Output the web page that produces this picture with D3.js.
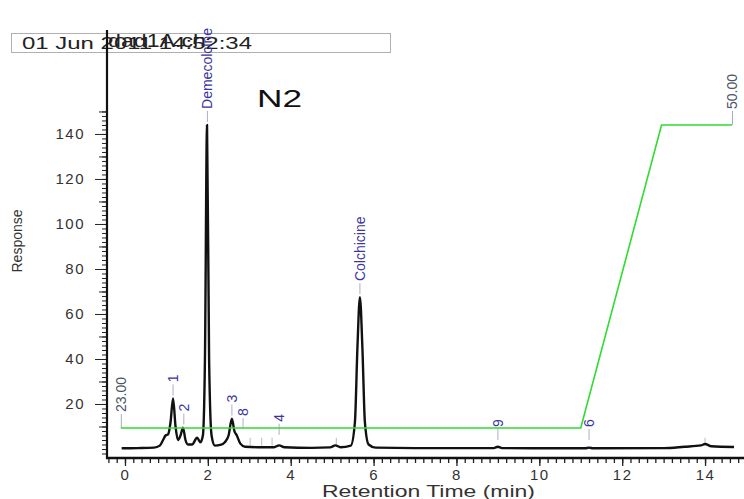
<!DOCTYPE html>
<html>
<head>
<meta charset="utf-8">
<script src="https://d3js.org/d3.v7.min.js"></script>
<style>
  body { margin: 0; background: #fff; }
  text { font-family: Arial, "Liberation Sans", sans-serif; }
</style>
</head>
<body>
<div id="chromChart"></div>
<script>
// chromatogram trace: retention time (min) and response
var traceTime = [-0.08, 0.3, 0.7, 0.84, 0.92, 0.98, 1.04, 1.1, 1.16, 1.22, 1.28, 1.34, 1.4, 1.46, 1.52, 1.62, 1.74, 1.82, 1.88, 1.93,
    1.98, 2.03, 2.09, 2.17, 2.3, 2.41, 2.5, 2.58, 2.64, 2.7, 2.78, 2.9, 3.2, 3.6, 3.72, 3.85, 4.5, 4.95, 5.08, 5.2,
    5.45, 5.55, 5.61, 5.67, 5.73, 5.79, 5.88, 6.05, 7.0, 8.9, 9.0, 9.1, 11.1, 11.2, 11.3, 13.0, 13.5, 13.9, 14.0, 14.15, 14.7];
var traceResponse = [0.3, 0.4, 0.6, 1.5, 4, 6, 6.5, 12, 22.5, 10, 4, 6, 9.5, 4, 2, 2, 5, 3, 6, 40,
    144, 40, 6, 1.5, 1.8, 3, 6, 13.5, 8, 6, 2.5, 1, 0.8, 0.8, 1.6, 0.8, 0.5, 0.7, 1.6, 0.8,
    1.5, 12, 45, 67.5, 45, 12, 2, 0.6, 0.4, 0.4, 1.0, 0.4, 0.3, 0.6, 0.3, 0.4, 1.0, 1.6, 2.2, 1.2, 0.9];

// solvent gradient (%B)
var gradTime = [-0.1, 11.0, 12.95, 14.65];
var gradPercent = [23, 23, 50, 50];

// peak labels: name, retention time, response where the label line starts
var peakNames = ["Demecolcine", "Colchicine", "1", "2", "3", "8", "4", "9", "6"];
var peakTimes = [1.99, 5.67, 1.16, 1.42, 2.58, 2.85, 3.72, 9.0, 11.2];
var peakTops = [144, 67.5, 22.5, 9.5, 13.5, 7.5, 5, 2.7, 2.7];

// unlabelled peak marks
var markTimes = [3.02, 3.3, 3.55, 5.1, 14.0];

// axis ticks
var xTickLabels = [0, 2, 4, 6, 8, 10, 12, 14];
var yTickLabels = [20, 40, 60, 80, 100, 120, 140];

var width = 744, height = 499;

var svg = d3.select("#chromChart")
    .append("svg")
    .attr("width", width)
    .attr("height", height);

// scales
var x = d3.scaleLinear()
    .domain([-0.434, 14.94])
    .range([107, 744]);

var y = d3.scaleLinear()
    .domain([-4, 186.2])
    .range([458, 30]);

// gradient shares the plot, 23% sits just above baseline and 50% near the top
var gy = d3.scaleLinear()
    .domain([23, 50])
    .range([y(9.3), y(144)]);

// header box with date and file name
svg.append("rect")
    .attr("x", 11.5).attr("y", 33.5)
    .attr("width", 379).attr("height", 19)
    .attr("fill", "none")
    .attr("stroke", "#b0b0b0")
    .attr("stroke-width", 1);
svg.append("text")
    .attr("x", 22).attr("y", 49)
    .attr("font-size", 17)
    .attr("fill", "#222")
    .attr("textLength", 230)
    .attr("lengthAdjust", "spacingAndGlyphs")
    .text("01 Jun 2011 14:52:34");
svg.append("text")
    .attr("x", 108).attr("y", 47)
    .attr("font-size", 18)
    .attr("fill", "#222")
    .attr("textLength", 98)
    .attr("lengthAdjust", "spacingAndGlyphs")
    .text("dad1A.ch");

// sample name
svg.append("text")
    .attr("x", 257).attr("y", 107)
    .attr("font-size", 24)
    .attr("fill", "#111")
    .attr("textLength", 45)
    .attr("lengthAdjust", "spacingAndGlyphs")
    .text("N2");

// Y axis: minor, medium and major ticks
var yMinor = d3.range(-2, 151, 2);
var yMid = d3.range(10, 151, 20);
svg.append("g")
    .attr("transform", "translate(107,0)")
    .call(d3.axisLeft(y).tickValues(yMinor).tickSize(5).tickFormat(""))
    .call(function(g) { g.select(".domain").remove() })
    .selectAll("line").attr("stroke", "#222");
svg.append("g")
    .attr("transform", "translate(107,0)")
    .call(d3.axisLeft(y).tickValues(yMid).tickSize(8).tickFormat(""))
    .call(function(g) { g.select(".domain").remove() })
    .selectAll("line").attr("stroke", "#222");
var yAxis = svg.append("g")
    .attr("transform", "translate(107,0)")
    .call(d3.axisLeft(y).tickValues(yTickLabels).tickSize(12).tickPadding(10))
    .call(function(g) { g.select(".domain").remove() });
yAxis.selectAll("line").attr("stroke", "#222");
yAxis.selectAll("text")
    .attr("font-size", 15)
    .attr("fill", "#333")
    .attr("font-family", "Arial, sans-serif")
    .attr("letter-spacing", "1.5px");

svg.append("line")
    .attr("x1", 107).attr("x2", 107)
    .attr("y1", 30).attr("y2", 459)
    .attr("stroke", "#111")
    .attr("stroke-width", 2.2);

// X axis
var xMinor = d3.range(-0.4, 14.95, 0.2);
svg.append("g")
    .attr("transform", "translate(0,458)")
    .call(d3.axisBottom(x).tickValues(xMinor).tickSize(5).tickFormat(""))
    .call(function(g) { g.select(".domain").remove() })
    .selectAll("line").attr("stroke", "#222").attr("stroke-width", 1.3);
var xAxis = svg.append("g")
    .attr("transform", "translate(0,458)")
    .call(d3.axisBottom(x).tickValues(xTickLabels).tickSize(8).tickPadding(3))
    .call(function(g) { g.select(".domain").remove() });
xAxis.selectAll("line").attr("stroke", "#222").attr("stroke-width", 1.3);
xAxis.selectAll("text")
    .attr("font-size", 15)
    .attr("fill", "#333")
    .attr("font-family", "Arial, sans-serif")
    .attr("letter-spacing", "1.5px");

svg.append("line")
    .attr("x1", 106).attr("x2", 744)
    .attr("y1", 458).attr("y2", 458)
    .attr("stroke", "#111")
    .attr("stroke-width", 2.6);

// axis titles
svg.append("text")
    .attr("transform", "translate(22,241) rotate(-90)")
    .attr("text-anchor", "middle")
    .attr("font-size", 14)
    .attr("fill", "#333")
    .attr("textLength", 63)
    .attr("lengthAdjust", "spacingAndGlyphs")
    .text("Response");
svg.append("text")
    .attr("x", 322).attr("y", 497)
    .attr("font-size", 16)
    .attr("fill", "#333")
    .attr("textLength", 213)
    .attr("lengthAdjust", "spacingAndGlyphs")
    .text("Retention Time (min)");

// unlabelled peak marks
svg.selectAll("marks")
    .data(markTimes)
    .enter()
    .append("line")
    .attr("x1", function(d) { return x(d) })
    .attr("x2", function(d) { return x(d) })
    .attr("y1", y(1.5))
    .attr("y2", y(5))
    .attr("stroke", "#aaa")
    .attr("stroke-width", 0.8);

// chromatogram trace
var trace = traceTime.map(function(t, i) { return [t, traceResponse[i]] });
svg.append("path")
    .datum(trace)
    .attr("fill", "none")
    .attr("stroke", "#111")
    .attr("stroke-width", 2.4)
    .attr("stroke-linejoin", "round")
    .attr("d", d3.line()
        .curve(d3.curveMonotoneX)
        .x(function(d) { return x(d[0]) })
        .y(function(d) { return y(d[1]) })
    );

// gradient line
var grad = gradTime.map(function(t, i) { return [t, gradPercent[i]] });
svg.append("path")
    .datum(grad)
    .attr("fill", "none")
    .attr("stroke", "#2fdc2f")
    .attr("stroke-width", 1.6)
    .attr("d", d3.line()
        .x(function(d) { return x(d[0]) })
        .y(function(d) { return gy(d[1]) })
    );

// gradient labels at first and last point
var gradEnds = [grad[0], grad[grad.length - 1]];
svg.selectAll("gradLines")
    .data(gradEnds)
    .enter()
    .append("line")
    .attr("x1", function(d) { return x(d[0]) + 0.5 })
    .attr("x2", function(d) { return x(d[0]) + 0.5 })
    .attr("y1", function(d) { return gy(d[1]) })
    .attr("y2", function(d) { return gy(d[1]) - 14 })
    .attr("stroke", "#8a9aa8")
    .attr("stroke-width", 0.8);
svg.selectAll("gradLabels")
    .data(gradEnds)
    .enter()
    .append("text")
    .attr("transform", function(d) {
        return "translate(" + (x(d[0]) + 5) + "," + (gy(d[1]) - 16) + ") rotate(-90)"
    })
    .attr("font-size", 14)
    .attr("fill", "#4a5566")
    .text(function(d) { return d3.format(".2f")(d[1]) });

// peak labels
var peaks = peakNames.map(function(n, i) {
    return {name: n, t: peakTimes[i], top: peakTops[i]}
});
svg.selectAll("peakLines")
    .data(peaks)
    .enter()
    .append("line")
    .attr("x1", function(d) { return x(d.t) })
    .attr("x2", function(d) { return x(d.t) })
    .attr("y1", function(d) { return y(d.top) - 3 })
    .attr("y2", function(d) { return y(d.top) - 14 })
    .attr("stroke", "#9a98b8")
    .attr("stroke-width", 0.8);
svg.selectAll("peakLabels")
    .data(peaks)
    .enter()
    .append("text")
    .attr("transform", function(d) {
        return "translate(" + (x(d.t) + 5) + "," + (y(d.top) - 16) + ") rotate(-90)"
    })
    .attr("font-size", 14)
    .attr("fill", "#3b35a0")
    .text(function(d) { return d.name });
</script>
</body>
</html>
